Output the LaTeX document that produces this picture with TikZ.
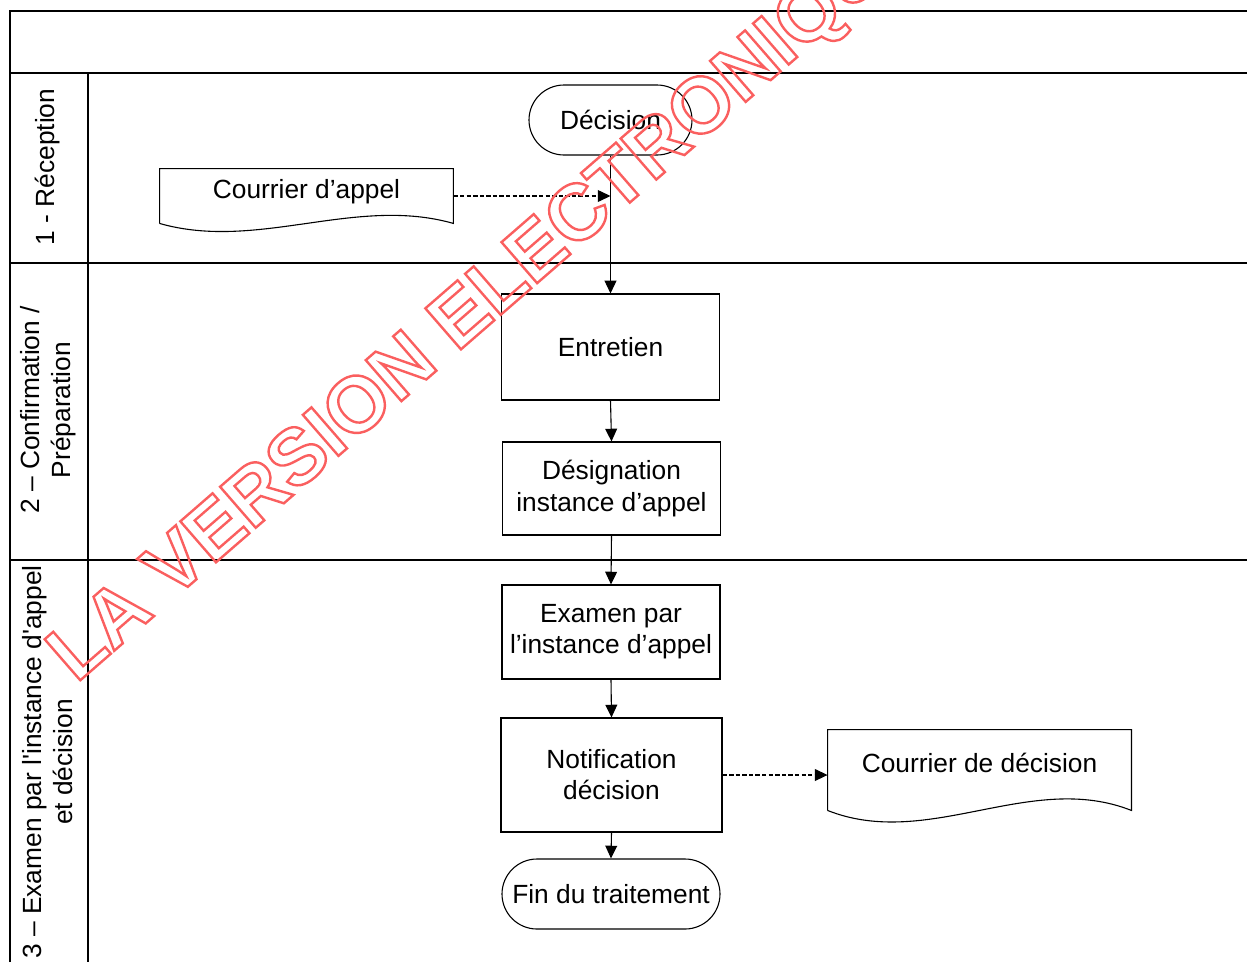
\documentclass[tikz,border=0pt]{standalone}
\usepackage{fontspec}
\setmainfont{Liberation Sans}
\usetikzlibrary{arrows.meta,calc}
\definecolor{wmred}{RGB}{250,95,95}
\newdimen\pu
\pu=0.456pt

\begin{document}
\begin{tikzpicture}[x=0.456pt,y=-0.456pt,font=\fontsize{12}{14.2}\selectfont,
        lane/.style={line width=0.8pt},
        box/.style={draw,line width=0.5pt,minimum width=218\pu,align=center,inner sep=0pt},
        term/.style={draw,line width=0.5pt,rounded corners=35\pu,minimum height=70\pu,align=center,inner sep=0pt},
        doc/.style={align=center,inner sep=0pt,text depth=14\pu},
        docline/.style={line width=0.5pt},
        flow/.style={-{Triangle[length=5.8pt,width=5.4pt]},line width=0.5pt},
        info/.style={flow,dash pattern=on 2pt off 1pt}]
            \clip (0,0) rectangle (1247,962);
            % swimlanes
            \draw[lane] (10,962) -- (10,11) -- (1247,11);
            \draw[lane] (10,73) -- (1247,73);
            \draw[lane] (10,263) -- (1247,263);
            \draw[lane] (10,560) -- (1247,560);
            \draw[lane] (88,73) -- (88,962);
            \node[rotate=90] (lab1) at (48,167) {1 - Réception};
            \node[rotate=90,align=center] (lab2) at (48,410) {2 – Confirmation /\\Préparation};
            \node[rotate=90,align=center] (lab3) at (48,762) {3 – Examen par l\textquotesingle instance d\textquotesingle appel\\et décision};
            % steps
            \node[term,minimum width=163\pu] (dec) at (610.5,120) {Décision};
            \node[doc,minimum width=293\pu,minimum height=54\pu] (cda) at (306.5,196) {Courrier d’appel};
            \node[box,minimum height=106\pu] (ent) at (610.5,347) {Entretien};
            \node[box,minimum height=93\pu] (des) at (611.5,488.5) {Désignation\\instance d’appel};
            \node[box,minimum height=94\pu] (exa) at (611,632) {Examen par\\l’instance d’appel};
            \node[box,minimum width=221\pu,minimum height=114\pu] (not) at (611.5,775) {Notification\\décision};
            \node[term,minimum width=218\pu] (fin) at (611,894) {Fin du traitement};
            \node[doc,minimum width=303\pu,minimum height=80\pu] (cdd) at (979.5,770) {Courrier de décision};
            % document outlines
            \draw[docline] (cda.south west) -- (cda.north west) -- (cda.north east) -- (cda.south east)
                .. controls ($(cda.south east)+(-98,-28)$) and ($(cda.south west)+(98,28)$) .. (cda.south west);
            \draw[docline] (cdd.south west) -- (cdd.north west) -- (cdd.north east) -- (cdd.south east)
                .. controls ($(cdd.south east)+(-101,-40)$) and ($(cdd.south west)+(101,40)$) .. (cdd.south west);
            % connectors
            \coordinate (join) at (dec.south |- cda.east);
            \draw[flow] (dec.south) -- (ent.north);
            \draw[info] (cda.east) -- (join);
            \draw[flow] (ent.south) -- (des.north);
            \draw[flow] (des.south) -- (exa.north);
            \draw[flow] (exa.south) -- (not.north);
            \draw[flow] (not.south) -- (fin.north);
            \draw[info] (not.east) -- (not.east -| cdd.west);
            % watermark
            \node[text=wmred,rotate=41,anchor=base west,inner sep=0pt,font=\fontsize{36}{36}\selectfont\bfseries] (wm) at (76,684)
                {\special{pdf:literal direct 1 Tr 1.1 w}LA VERSION ELECTRONIQUE\special{pdf:literal direct 0 Tr}};
        \end{tikzpicture}
\end{document}
